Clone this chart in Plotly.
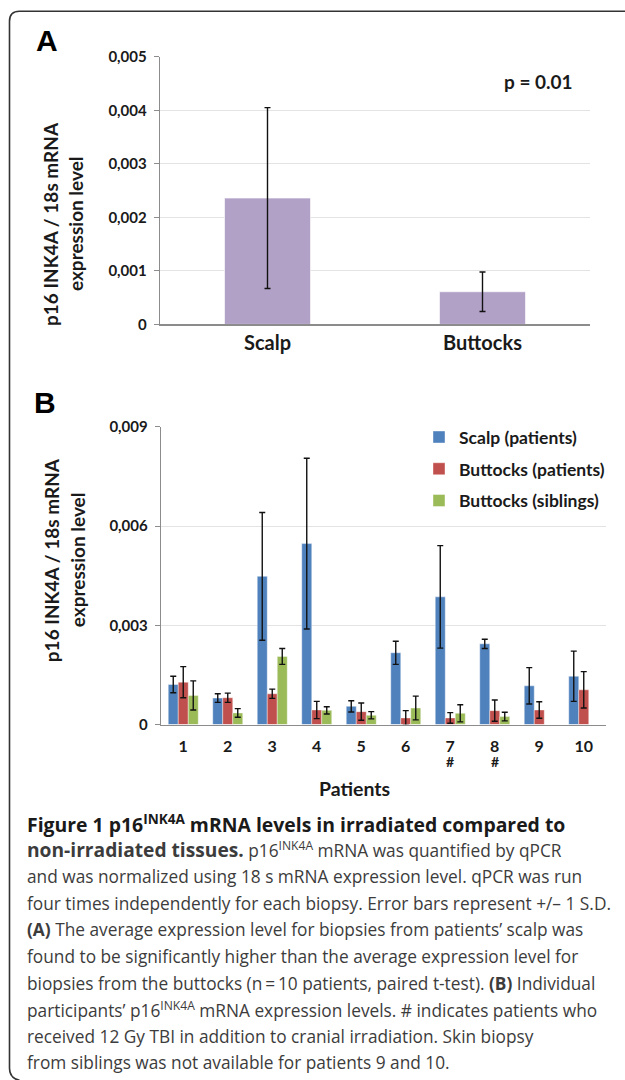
import plotly.graph_objects as go

# ---------------- data ----------------
panel_a_categories = ["Scalp", "Buttocks"]
panel_a_means = [0.00236, 0.00061]
panel_a_sd = [0.00169, 0.00037]
panel_a_tickvals = [0, 0.001, 0.002, 0.003, 0.004, 0.005]
panel_a_ticktext = ["0", "0,001", "0,002", "0,003", "0,004", "0,005"]

patients = ["1", "2", "3", "4", "5", "6", "7", "8", "9", "10"]
scalp_patients = [0.00121, 0.00080, 0.00448, 0.00547, 0.00055, 0.00217, 0.00386, 0.00244, 0.00117, 0.00146]
scalp_patients_sd = [0.00025, 0.00013, 0.00193, 0.00258, 0.00017, 0.00035, 0.00155, 0.00014, 0.00055, 0.00076]
buttocks_patients = [0.00128, 0.00081, 0.00093, 0.00044, 0.00039, 0.00020, 0.00020, 0.00042, 0.00044, 0.00105]
buttocks_patients_sd = [0.00047, 0.00014, 0.00014, 0.00026, 0.00026, 0.00022, 0.00016, 0.00032, 0.00025, 0.00055]
buttocks_siblings = [0.00088, 0.00035, 0.00206, 0.00043, 0.00028, 0.00050, 0.00034, 0.00024, None, None]
buttocks_siblings_sd = [0.00044, 0.00013, 0.00024, 0.00011, 0.00011, 0.00036, 0.00026, 0.00013, None, None]
tbi_patients = ["7", "8"]
panel_b_tickvals = [0, 0.003, 0.006, 0.009]
panel_b_ticktext = ["0", "0,003", "0,006", "0,009"]

BIG = "<span style='font-size:19.2px'>"
caption_lines = [
    "<b>Figure 1 p16<sup>INK4A</sup> mRNA levels in irradiated compared to</b>",
    BIG + "<b>non-irradiated tissues.</b></span> p16<sup>INK4A</sup> mRNA was quantified by qPCR",
    "and was normalized using 18 s mRNA expression level. qPCR was run",
    "four times independently for each biopsy. Error bars represent +/\u2013 1 S.D.",
    "<b>(A)</b> The average expression level for biopsies from patients\u2019 scalp was",
    "found to be significantly higher than the average expression level for",
    "biopsies from the buttocks (n\u2009=\u200910 patients, paired t-test). <b>(B)</b> Individual",
    "participants\u2019 p16<sup>INK4A</sup> mRNA expression levels. # indicates patients who",
    "received 12 Gy TBI in addition to cranial irradiation. Skin biopsy",
    "from siblings was not available for patients 9 and 10.",
]

# ---------------- helpers ----------------
W, H = 625, 1080
def px(x):
    return x / W
def py(y):
    # target pixel row -> paper fraction (small empirical correction for the capture)
    yy = (y - 10.0) / 0.983
    return 1 - yy / H

CHART_FONT = "Lato, Carlito, Calibri, Arial, sans-serif"
CAP_FONT = "Open Sans, Myriad Pro, sans-serif"
BLUE, RED, GREEN, PURPLE = "#4F81BD", "#C0504D", "#9BBB59", "#B2A1C7"
GRID = "#E3E3E3"
AXIS = "#8C8C8C"

fig = go.Figure()

err_style = dict(type="data", color="#111111", thickness=1.4, width=3, visible=True)

# Panel A
fig.add_trace(go.Bar(
    x=panel_a_categories, y=panel_a_means,
    error_y=dict(array=panel_a_sd, **err_style),
    marker=dict(color=PURPLE, line=dict(color="rgba(255,255,255,0.6)", width=1)),
    width=0.4, showlegend=False, xaxis="x", yaxis="y",
))

# Panel B
for name, vals, sd, col in [
    ("Scalp (patients)", scalp_patients, scalp_patients_sd, BLUE),
    ("Buttocks (patients)", buttocks_patients, buttocks_patients_sd, RED),
    ("Buttocks (siblings)", buttocks_siblings, buttocks_siblings_sd, GREEN),
]:
    fig.add_trace(go.Bar(
        x=patients, y=vals, name=name, legendgroup=name,
        error_y=dict(array=sd, **err_style),
        marker=dict(color=col, line=dict(color="rgba(255,255,255,0.5)", width=0.8)),
        xaxis="x2", yaxis="y2",
    ))

tickfont = dict(family=CHART_FONT, size=15, color="#1a1a1a", weight="bold")

fig.update_layout(
    width=W, height=H, autosize=False,
    margin=dict(l=0, r=0, t=0, b=0),
    paper_bgcolor="white", plot_bgcolor="white",
    barmode="group", bargap=0.326, bargroupgap=0,
    xaxis=dict(domain=[px(160), px(590)], anchor="y", showline=True, linecolor=AXIS, linewidth=1.3,
               ticks="", tickfont=dict(family=CHART_FONT, size=20, color="#1a1a1a", weight="bold"),
               ticklabelstandoff=0, fixedrange=True),
    yaxis=dict(domain=[py(324.3), py(56.7)], anchor="x", range=[0, 0.005],
               tickvals=panel_a_tickvals, ticktext=panel_a_ticktext,
               showline=True, linecolor=AXIS, linewidth=1.3, ticks="outside", ticklen=5,
               tickcolor=AXIS, showgrid=True, gridcolor=GRID, gridwidth=1, zeroline=False,
               tickfont=tickfont, ticklabelstandoff=4, fixedrange=True),
    xaxis2=dict(domain=[px(161), px(606)], anchor="y2", showline=True, linecolor=AXIS, linewidth=1.3,
                ticks="", tickfont=dict(family=CHART_FONT, size=16, color="#1a1a1a", weight="bold"),
                ticklabelstandoff=7, fixedrange=True),
    yaxis2=dict(domain=[py(724.3), py(426.7)], anchor="x2", range=[0, 0.009],
                tickvals=panel_b_tickvals, ticktext=panel_b_ticktext,
                showline=True, linecolor=AXIS, linewidth=1.3, ticks="outside", ticklen=5,
                tickcolor=AXIS, showgrid=True, gridcolor=GRID, gridwidth=1, zeroline=False,
                tickfont=tickfont, ticklabelstandoff=4, fixedrange=True),
    legend=dict(x=px(419), y=py(419), xanchor="left", yanchor="top",
                bgcolor="rgba(0,0,0,0)", tracegroupgap=6, itemwidth=30,
                font=dict(family=CHART_FONT, size=17.5, color="#1a1a1a", weight="bold")),
    showlegend=True,
)

ann = []
def add_text(text, x, y, size, bold=True, family=CHART_FONT, xanchor="center", angle=0, color="#1a1a1a"):
    ann.append(dict(text=text, x=px(x), y=py(y), xref="paper", yref="paper",
                    xanchor=xanchor, yanchor="middle", showarrow=False, textangle=angle,
                    font=dict(family=family, size=size, color=color, weight="bold" if bold else "normal")))

# Panel letters
add_text("A", 47, 40, 30, family="Liberation Sans, Arial, sans-serif", color="#000")
add_text("B", 45, 402, 30, family="Liberation Sans, Arial, sans-serif", color="#000")
# p value
add_text("p = 0.01", 538, 81, 19)
# y titles
add_text("p16 INK4A / 18s mRNA", 50, 224, 19, angle=-90)
add_text("expression level", 75, 224, 19, angle=-90)
add_text("p16 INK4A / 18s mRNA", 51, 560, 19, angle=-90)
add_text("expression level", 77, 560, 19, angle=-90)
# x title B
add_text("Patients", 354, 788, 19.5)
# TBI marks (numeric category index on the category axis)
for p in tbi_patients:
    ann.append(dict(text="#", x=patients.index(p), y=py(761), xref="x2", yref="paper", showarrow=False,
                    xanchor="center", yanchor="middle",
                    font=dict(family=CHART_FONT, size=14, color="#1a1a1a", weight="bold")))
# caption
cap_y = [823, 849, 876, 903, 929, 956, 983, 1009, 1036, 1062]
for i, (line, yy) in enumerate(zip(caption_lines, cap_y)):
    ann.append(dict(text=line, x=px(25), y=py(yy), xref="paper", yref="paper",
                    xanchor="left", yanchor="middle", showarrow=False,
                    font=dict(family=CAP_FONT, size=19.4 if i == 0 else 17.3,
                              color="#1a1a1a" if i == 0 else "#3c3c3c")))
fig.update_layout(annotations=ann)

# rounded border (open on the right / bottom as in the crop)
L, T, r = 9.5, 11.2, 10
path = (f"M {px(640)},{py(T)} L {px(L + r)},{py(T)} Q {px(L)},{py(T)} {px(L)},{py(T + r)} "
        f"L {px(L)},{py(1068)} Q {px(L)},{py(1078)} {px(L + r)},{py(1080)}")
fig.add_shape(type="path", path=path, xref="paper", yref="paper",
              line=dict(color="#333333", width=1.6))

post = (
    "var de=document.documentElement, b=document.body;"
    "[de,b].forEach(function(e){e.style.margin='0';e.style.padding='0';"
    "e.style.overflow='hidden';e.style.height='1080px';e.style.width='625px';});"
    "var gd=document.getElementById('{plot_id}');"
    "gd.style.position='fixed';gd.style.left='0px';gd.style.top='0px';"
)
fig.write_html("out.html", config={"displayModeBar": False, "staticPlot": True}, post_script=post)
